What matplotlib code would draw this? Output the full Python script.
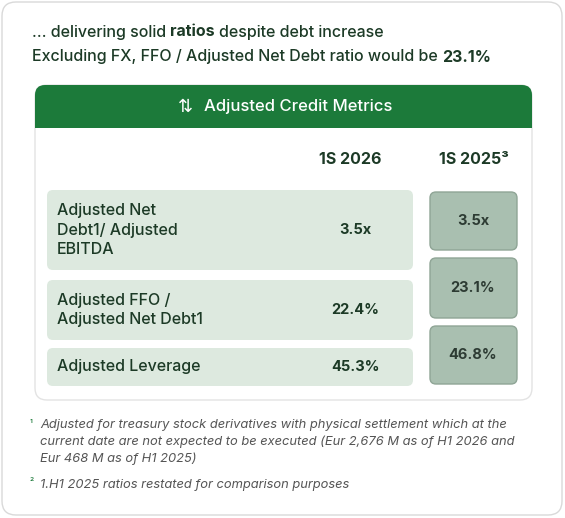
import matplotlib
matplotlib.use("Agg")
import matplotlib.pyplot as plt
from matplotlib.patches import FancyBboxPatch

metrics = ["Adjusted Net\nDebt1/ Adjusted\nEBITDA", "Adjusted FFO /\nAdjusted Net Debt1", "Adjusted Leverage"]
values_2026 = ["3.5x", "22.4%", "45.3%"]
values_2025 = ["3.5x", "23.1%", "46.8%"]
col_headers = ["1S 2026", "1S 2025³"]

plt.rcParams['font.family'] = ['Inter', 'DejaVu Sans']
fig = plt.figure(figsize=(5.65, 5.18), dpi=100)
ax = fig.add_axes([0, 0, 1, 1])
ax.set_xlim(0, 565); ax.set_ylim(518, 0); ax.axis('off')

def box(x0, y0, x1, y1, fc, ec='none', r=8, lw=1):
    ax.add_patch(FancyBboxPatch((x0 + r, y0 + r), x1 - x0 - 2*r, y1 - y0 - 2*r,
                                boxstyle=f"round,pad={r}", fc=fc, ec=ec, lw=lw))

dark = '#1c3a26'
box(2, 2, 562, 515, 'white', '#d9d9d9', r=14)
fig.canvas.draw()
r = fig.canvas.get_renderer()
t = ax.text(32, 32, "… delivering solid ", fontsize=11.5, color=dark, va='center', weight='medium')
x = t.get_window_extent(r).x1
t2 = ax.text(x, 32, "ratios", fontsize=11.5, color=dark, va='center', weight='bold')
x = t2.get_window_extent(r).x1
ax.text(x + 4, 32, "despite debt increase", fontsize=11.5, color=dark, va='center', weight='medium')
t3 = ax.text(32, 57, "Excluding FX, FFO / Adjusted Net Debt ratio would be ", fontsize=11.5, color=dark, va='center', weight='medium')
x = t3.get_window_extent(r).x1
ax.text(x, 57, "23.1%", fontsize=11.5, color=dark, va='center', weight='bold')

# card
box(35, 85, 532, 400, 'white', '#e3e3e3', r=12)
box(35, 85, 532, 128, '#1c7a3a', r=10)
ax.add_patch(plt.Rectangle((35, 110), 497, 18, fc='#1c7a3a', ec='none'))
ax.text(186, 107, "⇅", fontsize=13, color='white', va='center', ha='center', family='DejaVu Sans')
ax.text(204, 107, "Adjusted Credit Metrics", fontsize=12, color='white', va='center', weight='medium')

ax.text(350, 160, col_headers[0], fontsize=11.5, color=dark, ha='center', va='center', weight='bold')
ax.text(474, 160, col_headers[1], fontsize=11.5, color=dark, ha='center', va='center', weight='bold')

left_rows = [(190, 270), (280, 340), (348, 386)]
right_rows = [(192, 250), (258, 318), (326, 384)]
for (y0, y1), m, v in zip(left_rows, metrics, values_2026):
    box(47, y0, 413, y1, '#dde9df', r=6)
    ax.text(57, (y0 + y1) / 2, m, fontsize=11.5, color=dark, va='center', linespacing=1.35, weight='medium')
    ax.text(355, (y0 + y1) / 2, v, fontsize=10.5, color=dark, va='center', ha='center', weight='bold')
for (y0, y1), v in zip(right_rows, values_2025):
    box(430, y0, 517, y1, '#a9bfb0', '#8fa596', r=6)
    ax.text(473, (y0 + y1) / 2, v, fontsize=10.5, color='#2d3b33', va='center', ha='center', weight='bold')

fn = '#555555'
ax.text(30, 424, "¹", fontsize=7, color='#1c7a3a', va='center')
ax.text(40, 419, "Adjusted for treasury stock derivatives with physical settlement which at the\ncurrent date are not expected to be executed (Eur 2,676 M as of H1 2026 and\nEur 468 M as of H1 2025)",
        fontsize=9.3, color=fn, va='top', style='italic', linespacing=1.45)
ax.text(30, 482, "²", fontsize=7, color='#1c7a3a', va='center')
ax.text(40, 485, "1.H1 2025 ratios restated for comparison purposes", fontsize=9.3, color=fn, va='center', style='italic')

fig.savefig("out.png", dpi=100)
